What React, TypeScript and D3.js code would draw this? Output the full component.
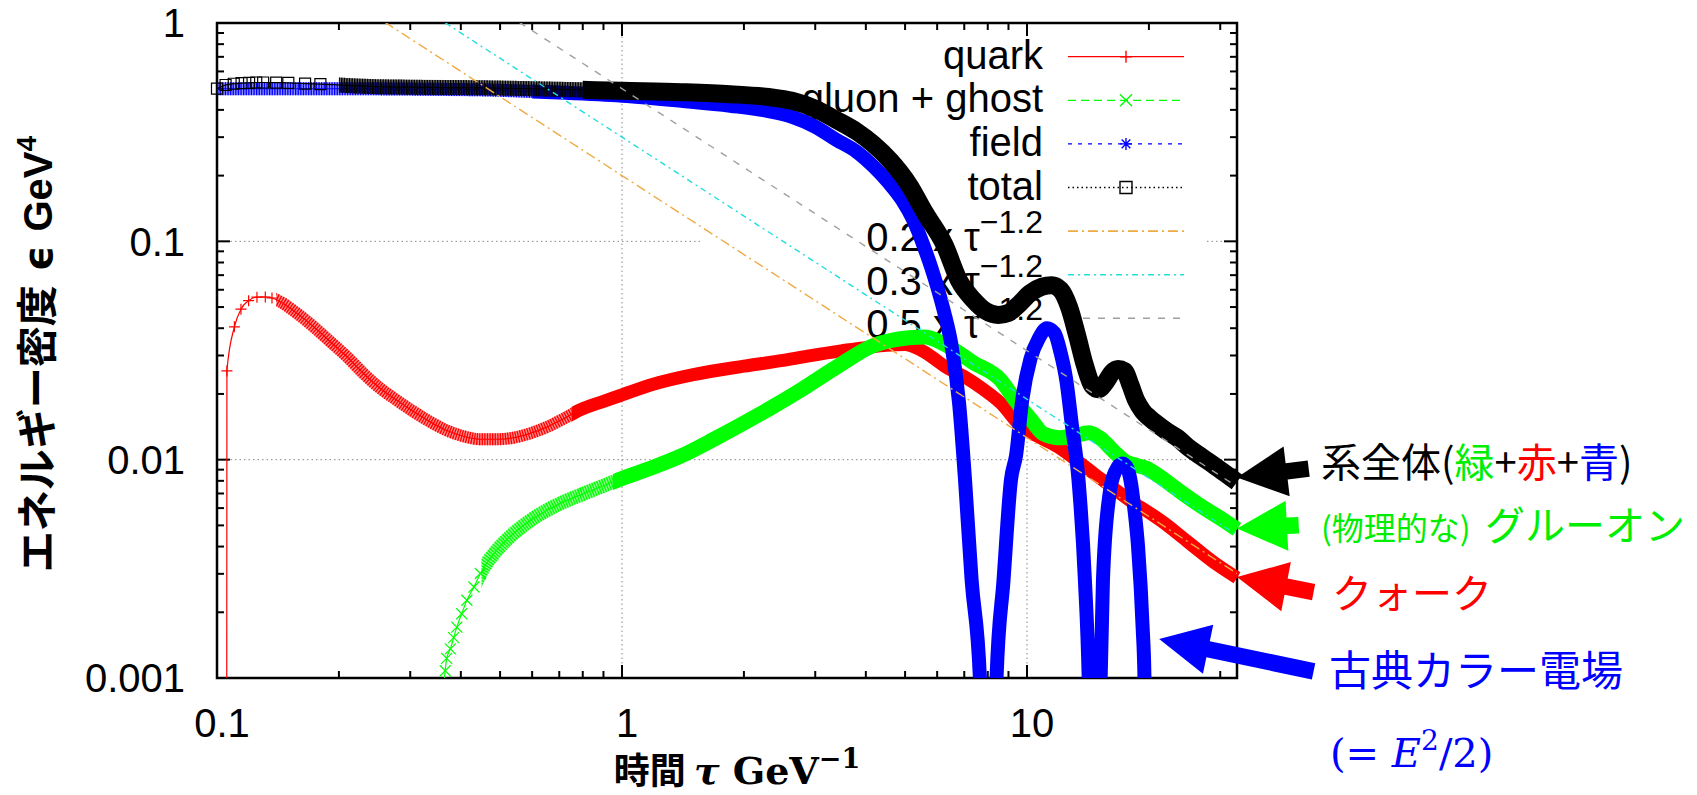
import React from "react";
import * as d3 from "d3";

type Pt = [number, number];

// tau [GeV^-1], energy density [GeV^4]
const quark: Pt[] = [
  [0.1055, 1e-6], [0.1058, 0.0255], [0.1104, 0.0406], [0.1146, 0.0489], [0.1197, 0.0535],
  [0.1255, 0.0555], [0.1316, 0.0556], [0.1367, 0.055], [0.1433, 0.0529], [0.1576, 0.0468],
  [0.1732, 0.0406], [0.1905, 0.0347], [0.2094, 0.0296], [0.2301, 0.0248], [0.253, 0.0212],
  [0.2781, 0.0187], [0.3056, 0.0166], [0.3361, 0.0149], [0.3694, 0.0136], [0.406, 0.0128],
  [0.4465, 0.0124], [0.4908, 0.0124], [0.5394, 0.0126], [0.593, 0.0132], [0.652, 0.0141],
  [0.717, 0.0154], [0.788, 0.0169], [0.9, 0.0185], [1.0, 0.0198], [1.2, 0.0222], [1.5, 0.0245],
  [2.0, 0.0268], [2.5, 0.0285], [3.0, 0.0302], [3.5, 0.0316], [4.0, 0.0326], [4.5, 0.0334],
  [5.0, 0.0337], [5.65, 0.0307], [6.26, 0.0268], [7.0, 0.024], [7.8, 0.021], [8.6, 0.0182],
  [9.7, 0.0141], [10.8, 0.0126], [11.9, 0.01146], [13.2, 0.01], [14.6, 0.00865], [16.2, 0.0075],
  [17.9, 0.00652], [19.8, 0.0058], [21.9, 0.0051], [24.2, 0.0044], [26.8, 0.00378], [29.5, 0.0033],
  [33, 0.00288],
];

const gluon: Pt[] = [
  [0.355, 0.0006], [0.366, 0.00108], [0.369, 0.00123], [0.377, 0.00136], [0.384, 0.00153],
  [0.391, 0.00171], [0.402, 0.00197], [0.414, 0.00227], [0.431, 0.00261], [0.447, 0.00301],
  [0.491, 0.00385], [0.54, 0.00459], [0.595, 0.00528], [0.653, 0.00587], [0.718, 0.00641],
  [0.788, 0.00688], [0.9, 0.0076], [1.0, 0.0082], [1.17, 0.0091], [1.4, 0.0104], [1.7, 0.0125],
  [2.17, 0.016], [2.78, 0.021], [3.38, 0.0265], [4.17, 0.0333], [5.11, 0.0362], [5.6, 0.0365],
  [6.26, 0.0338], [7.37, 0.0278], [8.6, 0.0232], [9.3, 0.019], [10.3, 0.015], [11.0, 0.0131],
  [12.0, 0.0126], [13.0, 0.0128], [14.2, 0.0133], [15.2, 0.0125], [16.3, 0.011], [17.5, 0.0098],
  [18.7, 0.0094], [19.8, 0.0091], [21, 0.0085], [24, 0.0071], [27, 0.0061], [30, 0.0054],
  [33, 0.0048],
];

const field: Pt[] = [
  [0.1, 0.5], [0.15, 0.5], [0.2, 0.5], [0.3, 0.498], [0.45, 0.494], [0.7, 0.48], [1.0, 0.464],
  [1.4, 0.44], [1.85, 0.418], [2.3, 0.395], [2.63, 0.372], [3.0, 0.335], [3.38, 0.292],
  [3.8, 0.257], [4.18, 0.22], [4.55, 0.186], [4.91, 0.155], [5.25, 0.124], [5.56, 0.095],
  [5.8, 0.076], [6.0, 0.062], [6.25, 0.047], [6.5, 0.034], [6.8, 0.018], [7.03, 0.0081],
  [7.3, 0.0028], [7.65, 0.001], [8.0, 0.00001], [8.41, 0.001], [8.75, 0.0028], [9.13, 0.0081],
  [9.4, 0.0105], [9.73, 0.0187], [10.2, 0.029], [10.7, 0.036], [11.2, 0.04], [11.7, 0.038],
  [12.1, 0.031], [12.5, 0.0232], [12.9, 0.0145], [13.4, 0.0081], [13.9, 0.0028], [14.2, 0.001],
  [14.7, 0.00001], [15.2, 0.001], [15.4, 0.0028], [15.96, 0.0068], [16.5, 0.0088], [17.2, 0.0096],
  [17.7, 0.0091], [18.0, 0.0081], [18.4, 0.006], [18.8, 0.004], [19.3, 0.0017], [19.5, 0.001],
  [19.8, 0.00001],
];

const total: Pt[] = [
  [0.1, 0.5], [0.105, 0.52], [0.11, 0.527], [0.115, 0.53], [0.12, 0.532], [0.125, 0.534],
  [0.13, 0.534], [0.14, 0.533], [0.15, 0.532], [0.165, 0.528], [0.18, 0.525], [0.2, 0.52],
  [0.22, 0.515], [0.3, 0.508], [0.45, 0.505], [0.7, 0.497], [1.0, 0.489], [1.4, 0.482],
  [1.85, 0.472], [2.3, 0.458], [2.63, 0.44], [3.0, 0.405], [3.38, 0.36], [3.8, 0.318],
  [4.17, 0.279], [4.6, 0.234], [5.11, 0.182], [5.6, 0.135], [6.26, 0.096], [6.8, 0.066],
  [7.37, 0.054], [7.9, 0.048], [8.5, 0.046], [9.0, 0.047], [9.5, 0.051], [10.2, 0.058],
  [10.9, 0.062], [11.5, 0.063], [12.1, 0.06], [12.7, 0.05], [13.3, 0.037], [13.9, 0.027],
  [14.5, 0.0218], [15.0, 0.021], [15.6, 0.0225], [16.2, 0.025], [16.8, 0.026], [17.4, 0.0255],
  [18.0, 0.022], [18.6, 0.0187], [19.3, 0.0167], [20.1, 0.0155], [21, 0.0145], [22, 0.0136],
  [23.5, 0.0126], [25, 0.0114], [27, 0.0103], [29, 0.0094], [31, 0.0086], [33, 0.0079],
];

// reference power laws c * tau^-1.2
const powerCoefs = [0.2, 0.3, 0.5];
const powerExp = -1.2;

const xTickValues = [0.1, 1, 10];
const xTickLabels = ["0.1", "1", "10"];
const yTickValues = [1, 0.1, 0.01, 0.001];
const yTickLabels = ["1", "0.1", "0.01", "0.001"];

const seriesLabels = ["quark", "gluon + ghost", "field", "total"];
const powerLabels = ["0.2 x τ", "0.3 x τ", "0.5 x τ"];
const powerSup = "−1.2";

// arrow tips (tau, eps) on the right side
const arrowTips: Pt[] = [[33, 0.00829], [33, 0.00484], [33, 0.0029], [21.2, 0.00151]];

const W = 1697;
const H = 795;
const X0 = 217, X1 = 1237, Y0 = 23, Y1 = 678;

const styles = [
  { color: "#ff0000", dash: "", marker: "plus", band: 13, hatchW: 12, hatchOp: 0.45, markUntil: 0.14, solidFrom: 0.75 },
  { color: "#00ff00", dash: "8 5", marker: "cross", band: 15, hatchW: 14, hatchOp: 0.45, markUntil: 0.45, solidFrom: 0.95 },
  { color: "#0000ff", dash: "4 6", marker: "star", band: 14, hatchW: 13, hatchOp: 0.45, markUntil: 0.1, solidFrom: 0.6 },
  { color: "#000000", dash: "1.5 3", marker: "box", band: 18, hatchW: 15, hatchOp: 0.6, markUntil: 0.2, solidFrom: 0.8 },
];
const powerStyles = [
  { color: "#eeaa44", dash: "10 4 2 4" },
  { color: "#22dddd", dash: "6 4 2 4" },
  { color: "#a0a0a0", dash: "7 8" },
];

function markerPath(kind: string, s: number) {
  const h = s / 2;
  const d = h * 0.72;
  if (kind === "plus") return `M${-h},0H${h}M0,${-h}V${h}`;
  if (kind === "cross") return `M${-h},${-h}L${h},${h}M${-h},${h}L${h},${-h}`;
  if (kind === "star")
    return `M${-h},0H${h}M0,${-h}V${h}M${-d},${-d}L${d},${d}M${-d},${d}L${d},${-d}`;
  return `M${-h},${-h}H${h}V${h}H${-h}Z`;
}

function arrowPoints(tip: Pt, tail: Pt, headLen: number, headW: number, shaftW: number) {
  const dx = tail[0] - tip[0];
  const dy = tail[1] - tip[1];
  const len = Math.hypot(dx, dy);
  const ux = dx / len, uy = dy / len;
  const px = -uy, py = ux;
  const bx = tip[0] + ux * headLen, by = tip[1] + uy * headLen;
  const pts = [
    [tip[0], tip[1]],
    [bx + px * headW / 2, by + py * headW / 2],
    [bx + px * shaftW / 2, by + py * shaftW / 2],
    [tail[0] + px * shaftW / 2, tail[1] + py * shaftW / 2],
    [tail[0] - px * shaftW / 2, tail[1] - py * shaftW / 2],
    [bx - px * shaftW / 2, by - py * shaftW / 2],
    [bx - px * headW / 2, by - py * headW / 2],
  ];
  return pts.map((p) => p.join(",")).join(" ");
}

export default function App() {
  const x = d3.scaleLog().domain([0.1, 33]).range([X0, X1]);
  const y = d3.scaleLog().domain([0.001, 1]).range([Y1, Y0]);

  const line = d3
    .line<Pt>()
    .x((d) => x(d[0]))
    .y((d) => y(d[1]))
    .curve(d3.curveMonotoneX);

  const isMajor = (t: number) => Math.abs(Math.log10(t) - Math.round(Math.log10(t))) < 1e-6;
  const xTicks = x.ticks();
  const yTicks = y.ticks();

  const allSeries = [quark, gluon, field, total];

  const legY = (i: number) => 56.7 + i * 43.6;
  const legText = 1043;
  const legL = 1068, legR = 1184, legM = 1126;

  const tails: Pt[] = [[71.7, -8.8], [61.7, -3.3], [76.6, 15], [154.4, 32.5]];
  const arrowColors = ["#000000", "#00ff00", "#ff0000", "#0000ff"];

  return (
    <div style={{ position: "absolute", left: 0, top: 0 }}>
      <svg width={W} height={H} style={{ display: "block", background: "#fff" }}
        fontFamily="'Liberation Sans', Arial, sans-serif">
        <defs>
          <clipPath id="plot">
            <rect x={X0} y={Y0} width={X1 - X0} height={Y1 - Y0} />
          </clipPath>
          <clipPath id="plotPad">
            <rect x={X0 - 8} y={Y0 - 8} width={X1 - X0 + 16} height={Y1 - Y0 + 8} />
          </clipPath>
          {styles.map((s, i) => {
            const hx = s.markUntil <= 0.1 ? X0 - 10 : x(s.markUntil);
            return (
              <React.Fragment key={i}>
                <clipPath id={`hatch${i}`}>
                  <rect x={hx} y={0} width={x(s.solidFrom) - hx} height={H} />
                </clipPath>
                <clipPath id={`solid${i}`}>
                  <rect x={x(s.solidFrom)} y={0} width={W - x(s.solidFrom)} height={H} />
                </clipPath>
              </React.Fragment>
            );
          })}
        </defs>

        {/* grid */}
        <g stroke="#888" strokeWidth={1} strokeDasharray="1.5 3">
          {xTicks.filter((t) => isMajor(t) && x(t) > X0 + 1 && x(t) < X1 - 1).map((t, i) => (
            <line key={i} x1={x(t)} x2={x(t)} y1={Y0} y2={Y1} />
          ))}
          {yTicks.filter((t) => isMajor(t) && y(t) > Y0 + 1 && y(t) < Y1 - 1).map((t, i) => (
            <line key={i} x1={X0} x2={X1} y1={y(t)} y2={y(t)} />
          ))}
        </g>

        {/* opaque key area */}
        <rect x={703} y={Y0 + 1} width={504} height={322} fill="#fff" />

        {/* border and ticks */}
        <g stroke="#000" strokeWidth={2}>
          {xTicks.map((t, i) => {
            const L = isMajor(t) ? 13 : 7;
            return (
              <g key={i}>
                <line x1={x(t)} x2={x(t)} y1={Y1} y2={Y1 - L} />
                <line x1={x(t)} x2={x(t)} y1={Y0} y2={Y0 + L} />
              </g>
            );
          })}
          {yTicks.map((t, i) => {
            const L = isMajor(t) ? 13 : 7;
            return (
              <g key={i}>
                <line x1={X0} x2={X0 + L} y1={y(t)} y2={y(t)} />
                <line x1={X1} x2={X1 - L} y1={y(t)} y2={y(t)} />
              </g>
            );
          })}
        </g>
        <rect x={X0} y={Y0} width={X1 - X0} height={Y1 - Y0} fill="none" stroke="#000" strokeWidth={2.5} />

        {/* tick labels */}
        <g fontSize={40} fill="#000">
          {xTickValues.map((t, i) => (
            <text key={i} x={x(t) + 5} y={737} textAnchor="middle">{xTickLabels[i]}</text>
          ))}
          {yTickValues.map((t, i) => (
            <text key={i} x={185} y={y(t)} dy="0.36em" textAnchor="end">{yTickLabels[i]}</text>
          ))}
        </g>

        {/* axis titles */}
        <text transform="translate(52,354) rotate(-90)" textAnchor="middle" fontWeight="bold" fill="#000">
          <tspan fontFamily="'Noto Sans CJK JP'" fontSize={41}>エネルギー密度</tspan>
          <tspan fontFamily="'DejaVu Sans'" fontSize={40}> ϵ </tspan>
          <tspan fontFamily="'Liberation Sans'" fontSize={40}>GeV</tspan>
          <tspan fontFamily="'Liberation Sans'" fontSize={28} dy={-16}>4</tspan>
        </text>
        <text x={737} y={784} textAnchor="middle" fontWeight="bold" fill="#000">
          <tspan fontFamily="'Noto Sans CJK JP'" fontSize={36}>時間 </tspan>
          <tspan fontFamily="'DejaVu Serif'" fontStyle="italic" fontSize={38}>τ</tspan>
          <tspan fontFamily="'DejaVu Serif'" fontSize={38}> GeV</tspan>
          <tspan fontFamily="'DejaVu Serif'" fontSize={27} dy={-16}>−1</tspan>
        </text>

        {/* key */}
        <g fontSize={40} fill="#000">
          {seriesLabels.map((lab, i) => (
            <g key={i}>
              <text x={legText} y={legY(i) + 12} textAnchor="end">{lab}</text>
              <line x1={legL} x2={legR} y1={legY(i)} y2={legY(i)} stroke={styles[i].color}
                strokeWidth={1.3} strokeDasharray={styles[i].dash || undefined} />
              <path d={markerPath(styles[i].marker, 12)} transform={`translate(${legM},${legY(i)})`}
                fill="none" stroke={styles[i].color} strokeWidth={1.4} />
            </g>
          ))}
          {powerLabels.map((lab, i) => (
            <g key={i}>
              <text x={legText} y={legY(i + 4) + 20} textAnchor="end">
                {lab}
                <tspan fontSize={32} dy={-18}>{powerSup}</tspan>
              </text>
              <line x1={legL} x2={legR} y1={legY(i + 4)} y2={legY(i + 4)} stroke={powerStyles[i].color}
                strokeWidth={1.6} strokeDasharray={powerStyles[i].dash} />
            </g>
          ))}
        </g>

        {/* data */}
        {allSeries.map((data, i) => {
          const s = styles[i];
          const d = line(data) || "";
          const marks = data.filter((p) => p[0] < s.markUntil && p[1] >= 0.001 && p[1] <= 1);
          return (
            <g key={i}>
              <path d={d} fill="none" stroke={s.color} strokeWidth={1.2} clipPath="url(#plot)" />
              <g clipPath="url(#plotPad)">
                {marks.map((p, j) => (
                  <path key={j} d={markerPath(s.marker, 11)} transform={`translate(${x(p[0])},${y(p[1])})`}
                    fill="none" stroke={s.color} strokeWidth={1.2} />
                ))}
                <g clipPath={`url(#hatch${i})`}>
                  <path d={d} fill="none" stroke={s.color} strokeOpacity={s.hatchOp} strokeWidth={s.hatchW} />
                  <path d={d} fill="none" stroke={s.color} strokeWidth={s.hatchW} strokeDasharray="1.3 1.3" />
                </g>
                <g clipPath={`url(#solid${i})`}>
                  <path d={d} fill="none" stroke={s.color} strokeWidth={s.band} strokeLinejoin="round" />
                </g>
              </g>
            </g>
          );
        })}

        {/* power laws */}
        <g clipPath="url(#plot)">
          {powerCoefs.map((c, i) => {
            const pts: Pt[] = x.domain().map((t) => [t, c * Math.pow(t, powerExp)] as Pt);
            return (
              <path key={i} d={d3.line<Pt>().x((p) => x(p[0])).y((p) => y(p[1]))(pts) || ""}
                fill="none" stroke={powerStyles[i].color} strokeWidth={1.4} strokeDasharray={powerStyles[i].dash} />
            );
          })}
        </g>

        {/* arrows */}
        {arrowTips.map((tp, i) => {
          const tip: Pt = [x(tp[0]), y(tp[1])];
          const tail: Pt = [tip[0] + tails[i][0], tip[1] + tails[i][1]];
          return <polygon key={i} points={arrowPoints(tip, tail, 50, 50, 16.5)} fill={arrowColors[i]} />;
        })}

        {/* annotations */}
        <g fontFamily="'Noto Sans CJK JP'">
          <text x={1321} y={477} fontSize={40} fill="#000">
            系全体(<tspan fill="#00ee00">緑</tspan>+<tspan fill="#ff0000">赤</tspan>+<tspan fill="#0000ff">青</tspan>)
          </text>
          <text x={1321} y={540} fontSize={32} fill="#00ee00">(物理的な)</text>
          <text x={1485} y={540} fontSize={40} fill="#00ee00">グルーオン</text>
          <text x={1332} y={608} fontSize={40} fill="#ff0000">クォーク</text>
          <text x={1329} y={686} fontSize={42} fill="#0000ff">古典カラー電場</text>
        </g>
        <text x={1330} y={767} fontSize={40} fill="#0000ff" fontFamily="'DejaVu Serif'">
          (= <tspan fontStyle="italic">E</tspan><tspan fontSize={28} dy={-17}>2</tspan><tspan dy={17}>/2)</tspan>
        </text>
      </svg>
    </div>
  );
}
